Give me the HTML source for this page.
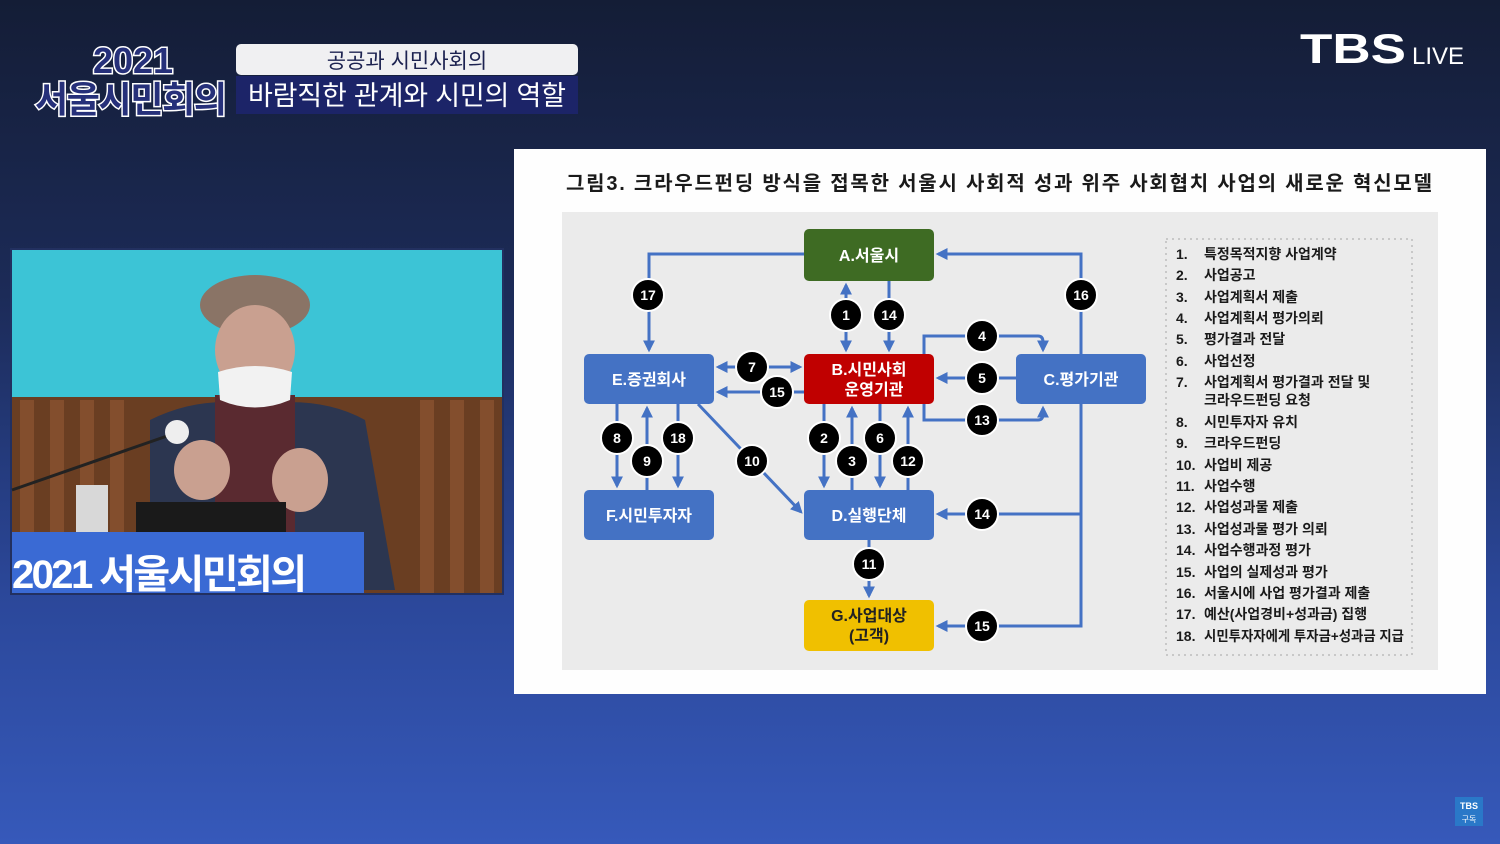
<!DOCTYPE html>
<html><head><meta charset="utf-8"><style>
html,body{margin:0;padding:0;width:1500px;height:844px;overflow:hidden;background:#1a2545}
svg{display:block}
text{font-family:"Liberation Sans","Noto Sans CJK KR",sans-serif}
</style></head><body>
<svg width="1500" height="844" viewBox="0 0 1500 844" xmlns="http://www.w3.org/2000/svg">
<defs>
<linearGradient id="bg" x1="0" y1="0" x2="0" y2="1">
<stop offset="0" stop-color="#141d36"/><stop offset="0.35" stop-color="#1c2b58"/><stop offset="0.7" stop-color="#2b4799"/><stop offset="1" stop-color="#3659ba"/>
</linearGradient>
<marker id="ar" viewBox="0 0 10 10" refX="8" refY="5" markerWidth="4" markerHeight="4" orient="auto-start-reverse"><path d="M0,0 L10,5 L0,10 z" fill="#4472c4"/></marker>
</defs>
<rect width="1500" height="844" fill="url(#bg)"/>

<!-- title banner -->
<text x="133" y="73" font-size="36" font-weight="bold" fill="#26307a" stroke="#fff" stroke-width="3" paint-order="stroke" text-anchor="middle">2021</text>
<text x="131" y="112" font-size="36" font-weight="bold" fill="#26307a" stroke="#fff" stroke-width="3" paint-order="stroke" text-anchor="middle" textLength="192">서울시민회의</text>
<rect x="236" y="44" width="342" height="31" rx="5" fill="#f0f0f2"/>
<text x="407" y="68" font-size="21" fill="#1c2250" text-anchor="middle">공공과 시민사회의</text>
<rect x="236" y="76" width="342" height="38" fill="#1c2468"/>
<text x="407" y="105" font-size="27" fill="#fff" text-anchor="middle" textLength="318">바람직한 관계와 시민의 역할</text>

<!-- TBS LIVE -->
<text x="1300" y="63" font-size="42" font-weight="bold" fill="#fff" textLength="106" lengthAdjust="spacingAndGlyphs">TBS</text>
<text x="1412" y="64" font-size="24" fill="#fff" textLength="52" lengthAdjust="spacingAndGlyphs">LIVE</text>

<!-- video panel -->
<rect x="10" y="248" width="494" height="347" fill="#223060"/>
<rect x="12" y="250" width="490" height="147" fill="#3cc4d6"/>
<rect x="12" y="397" width="490" height="196" fill="#6a3e22"/>
<g fill="#8a5230" opacity="0.8">
<rect x="20" y="400" width="14" height="193"/><rect x="50" y="400" width="14" height="193"/><rect x="80" y="400" width="14" height="193"/><rect x="110" y="400" width="14" height="193"/><rect x="420" y="400" width="14" height="193"/><rect x="450" y="400" width="14" height="193"/><rect x="480" y="400" width="14" height="193"/>
</g>
<path d="M150,420 Q200,395 255,405 Q320,395 365,420 L395,590 L150,590 Z" fill="#2c3650"/>
<rect x="215" y="395" width="80" height="140" fill="#5a2a30"/>
<ellipse cx="255" cy="305" rx="55" ry="30" fill="#8a7466"/>
<ellipse cx="255" cy="350" rx="40" ry="45" fill="#c9a090"/>
<path d="M218,372 Q255,360 292,372 L290,400 Q255,415 220,400 Z" fill="#f2f2f2"/>
<ellipse cx="202" cy="470" rx="28" ry="30" fill="#c9a090"/>
<ellipse cx="300" cy="480" rx="28" ry="32" fill="#c9a090"/>
<rect x="136" y="502" width="150" height="32" fill="#1a1a1a"/>
<rect x="76" y="485" width="32" height="48" fill="#d8d8d8"/>
<line x1="12" y1="490" x2="170" y2="435" stroke="#222" stroke-width="3"/>
<circle cx="177" cy="432" r="12" fill="#eee"/>
<rect x="12" y="532" width="352" height="61" fill="#3a6ad4"/>
<text x="12" y="588" font-size="40" font-weight="bold" fill="#fff" textLength="295">2021 서울시민회의</text>

<!-- slide -->
<rect x="514" y="149" width="972" height="545" fill="#fefefe"/>
<text x="999" y="190" font-size="20" font-weight="bold" fill="#1a1a1a" text-anchor="middle" textLength="866">그림3. 크라우드펀딩 방식을 접목한 서울시 사회적 성과 위주 사회협치 사업의 새로운 혁신모델</text>
<rect x="562" y="212" width="876" height="458" fill="#ebebeb"/>
<rect x="1166" y="239" width="246" height="416" fill="none" stroke="#c8c8c8" stroke-width="2" stroke-dasharray="2,4"/>

<!-- connectors -->
<g stroke="#4472c4" stroke-width="3" fill="none">
<path d="M804,254 H649 V350" marker-end="url(#ar)"/>
<path d="M1081,354 V254 H938" marker-end="url(#ar)"/>
<path d="M846,285 V350" marker-start="url(#ar)" marker-end="url(#ar)"/>
<path d="M889,281 V350" marker-end="url(#ar)"/>
<path d="M924,354 V336 H1038 Q1043,336 1043,342 V350" marker-end="url(#ar)"/>
<path d="M1016,378 H938" marker-end="url(#ar)"/>
<path d="M924,404 V420 H1038 Q1043,420 1043,414 V408" marker-end="url(#ar)"/>
<path d="M718,367 H800" marker-start="url(#ar)" marker-end="url(#ar)"/>
<path d="M804,392 H718" marker-end="url(#ar)"/>
<path d="M824,404 V486" marker-end="url(#ar)"/>
<path d="M852,490 V408" marker-end="url(#ar)"/>
<path d="M880,404 V486" marker-end="url(#ar)"/>
<path d="M908,490 V408" marker-end="url(#ar)"/>
<path d="M617,404 V486" marker-end="url(#ar)"/>
<path d="M647,490 V408" marker-end="url(#ar)"/>
<path d="M678,404 V486" marker-end="url(#ar)"/>
<path d="M698,404 L801,512" marker-end="url(#ar)"/>
<path d="M869,540 V596" marker-end="url(#ar)"/>
<path d="M1081,404 V626 H938" marker-end="url(#ar)"/>
<path d="M1081,514 H938" marker-end="url(#ar)"/>
</g>

<!-- nodes -->
<g font-size="16" font-weight="bold" text-anchor="middle">
<rect x="804" y="229" width="130" height="52" rx="5" fill="#3e6b23"/><text x="869" y="261" fill="#fff">A.서울시</text>
<rect x="804" y="354" width="130" height="50" rx="5" fill="#c00000"/><text x="869" y="375" fill="#fff">B.시민사회</text><text x="874" y="395" fill="#fff">운영기관</text>
<rect x="1016" y="354" width="130" height="50" rx="5" fill="#4472c4"/><text x="1081" y="385" fill="#fff">C.평가기관</text>
<rect x="584" y="354" width="130" height="50" rx="5" fill="#4472c4"/><text x="649" y="385" fill="#fff">E.증권회사</text>
<rect x="584" y="490" width="130" height="50" rx="5" fill="#4472c4"/><text x="649" y="521" fill="#fff">F.시민투자자</text>
<rect x="804" y="490" width="130" height="50" rx="5" fill="#4472c4"/><text x="869" y="521" fill="#fff">D.실행단체</text>
<rect x="804" y="600" width="130" height="51" rx="5" fill="#f0c000"/><text x="869" y="621" fill="#222">G.사업대상</text><text x="869" y="641" fill="#222">(고객)</text>
</g>

<!-- number circles -->
<g font-size="14" font-weight="bold" text-anchor="middle" fill="#fff">
<g stroke="#fff" stroke-width="2" fill="#000">
<circle cx="648" cy="295" r="16"/><circle cx="1081" cy="295" r="16"/><circle cx="846" cy="315" r="16"/><circle cx="889" cy="315" r="16"/>
<circle cx="982" cy="336" r="16"/><circle cx="982" cy="378" r="16"/><circle cx="982" cy="420" r="16"/>
<circle cx="752" cy="367" r="16"/><circle cx="777" cy="392" r="16"/>
<circle cx="824" cy="438" r="16"/><circle cx="852" cy="461" r="16"/><circle cx="880" cy="438" r="16"/><circle cx="908" cy="461" r="16"/>
<circle cx="617" cy="438" r="16"/><circle cx="647" cy="461" r="16"/><circle cx="678" cy="438" r="16"/><circle cx="752" cy="461" r="16"/>
<circle cx="869" cy="564" r="16"/><circle cx="982" cy="514" r="16"/><circle cx="982" cy="626" r="16"/>
</g>
<text x="648" y="300">17</text><text x="1081" y="300">16</text><text x="846" y="320">1</text><text x="889" y="320">14</text>
<text x="982" y="341">4</text><text x="982" y="383">5</text><text x="982" y="425">13</text>
<text x="752" y="372">7</text><text x="777" y="397">15</text>
<text x="824" y="443">2</text><text x="852" y="466">3</text><text x="880" y="443">6</text><text x="908" y="466">12</text>
<text x="617" y="443">8</text><text x="647" y="466">9</text><text x="678" y="443">18</text><text x="752" y="466">10</text>
<text x="869" y="569">11</text><text x="982" y="519">14</text><text x="982" y="631">15</text>
</g>

<!-- legend -->
<g font-size="14" font-weight="bold" fill="#1a1a1a">
<text x="1176" y="259">1.</text><text x="1204" y="259">특정목적지향 사업계약</text>
<text x="1176" y="280">2.</text><text x="1204" y="280">사업공고</text>
<text x="1176" y="302">3.</text><text x="1204" y="302">사업계획서 제출</text>
<text x="1176" y="323">4.</text><text x="1204" y="323">사업계획서 평가의뢰</text>
<text x="1176" y="344">5.</text><text x="1204" y="344">평가결과 전달</text>
<text x="1176" y="366">6.</text><text x="1204" y="366">사업선정</text>
<text x="1176" y="387">7.</text><text x="1204" y="387">사업계획서 평가결과 전달 및</text>
<text x="1204" y="405">크라우드펀딩 요청</text>
<text x="1176" y="427">8.</text><text x="1204" y="427">시민투자자 유치</text>
<text x="1176" y="448">9.</text><text x="1204" y="448">크라우드펀딩</text>
<text x="1176" y="470">10.</text><text x="1204" y="470">사업비 제공</text>
<text x="1176" y="491">11.</text><text x="1204" y="491">사업수행</text>
<text x="1176" y="512">12.</text><text x="1204" y="512">사업성과물 제출</text>
<text x="1176" y="534">13.</text><text x="1204" y="534">사업성과물 평가 의뢰</text>
<text x="1176" y="555">14.</text><text x="1204" y="555">사업수행과정 평가</text>
<text x="1176" y="577">15.</text><text x="1204" y="577">사업의 실제성과 평가</text>
<text x="1176" y="598">16.</text><text x="1204" y="598">서울시에 사업 평가결과 제출</text>
<text x="1176" y="619">17.</text><text x="1204" y="619">예산(사업경비+성과금) 집행</text>
<text x="1176" y="641">18.</text><text x="1204" y="641" textLength="200" lengthAdjust="spacingAndGlyphs">시민투자자에게 투자금+성과금 지급</text>
</g>

<!-- bottom-right icon -->
<rect x="1455" y="797" width="28" height="29" fill="#2a78c8"/>
<text x="1469" y="809" font-size="9" font-weight="bold" fill="#fff" text-anchor="middle">TBS</text>
<text x="1469" y="822" font-size="8" fill="#fff" text-anchor="middle">구독</text>
</svg>
</body></html>
